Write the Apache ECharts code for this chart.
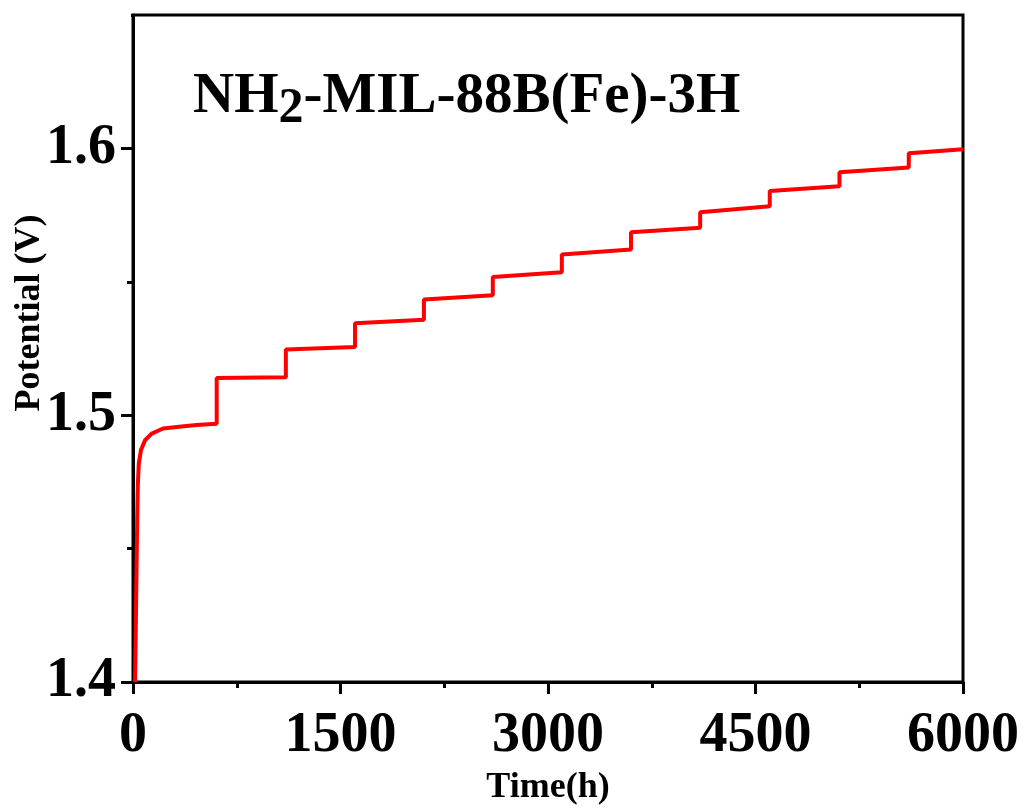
<!DOCTYPE html>
<html>
<head>
<meta charset="utf-8">
<script src="https://cdn.jsdelivr.net/npm/echarts@6/dist/echarts.min.js"></script>
<style>
html,body{margin:0;padding:0;background:#fff;}
#chart{width:1024px;height:809px;}
</style>
</head>
<body>
<div id="chart"></div>
<script>
// Initial rise (time in h, potential in V)
var riseTime = [15, 20, 25, 30, 35, 42, 58, 87, 135, 217, 350, 460];
var riseValue = [1.400, 1.420, 1.440, 1.460, 1.474, 1.482, 1.487, 1.4906, 1.4931, 1.4950, 1.4958, 1.4963];
// Step plateaus: each plateau begins at stepStart and ends at stepEnd
var stepStart = [0, 605, 1105, 1605, 2103, 2601, 3100, 3600, 4100, 4603, 5107, 5608];
var stepEnd = [605, 1105, 1605, 2103, 2601, 3100, 3600, 4100, 4603, 5107, 5608, 6000];
var plateauFirst = [null, 1.5139, 1.5246, 1.5345, 1.5434, 1.5518, 1.5602, 1.5686, 1.5761, 1.5840, 1.5911, 1.5982];
var plateauLast = [1.4968, 1.5142, 1.5256, 1.5358, 1.5450, 1.5536, 1.5621, 1.5703, 1.5783, 1.5858, 1.5928, 1.5997];
var xTicks = [0, 1500, 3000, 4500, 6000];
var yMajorTicks = [1.4, 1.5, 1.6];
var yMinorTicks = [1.45, 1.55];

var data = [];
for (var i = 0; i < riseTime.length; i++) data.push([riseTime[i], riseValue[i]]);
for (var k = 0; k < stepStart.length; k++) {
  if (plateauFirst[k] !== null) data.push([stepStart[k], plateauFirst[k]]);
  data.push([stepEnd[k], plateauLast[k]]);
}

var FONT = '"Liberation Serif", "Times New Roman", serif';
var chart = echarts.init(document.getElementById('chart'), null, {renderer: 'canvas'});
chart.setOption({
  animation: false,
  backgroundColor: '#fff',
  title: {
    left: 188, top: 64,
    text: '{a|NH}{s|2}{a|-MIL-88B(Fe)-3H}',
    textStyle: {
      rich: {
        a: {fontFamily: FONT, fontWeight: 'bold', fontSize: 57, color: '#000', lineHeight: 57, verticalAlign: 'top'},
        s: {fontFamily: FONT, fontWeight: 'bold', fontSize: 50, color: '#000', lineHeight: 50, verticalAlign: 'top', padding: [15, 0, 0, 0]}
      }
    }
  },
  graphic: [{
    type: 'text',
    x: 30, y: 313,
    rotation: Math.PI / 2,
    style: {text: 'Potential (V)', fontFamily: FONT, fontWeight: 'bold', fontSize: 36, fill: '#000',
      align: 'center', verticalAlign: 'middle'}
  }, {
    type: 'rect', z: 100,
    shape: {x: 100, y: 0, width: 31, height: 30},
    style: {fill: '#fff'}
  }],
  grid: {left: 133, right: 61, top: 15, bottom: 127, show: true, borderColor: '#000', borderWidth: 3,
    containLabel: false, outerBoundsMode: 'none'},
  xAxis: {
    type: 'value', min: 0, max: 6000, interval: 1500,
    name: 'Time(h)', nameLocation: 'middle', nameGap: 87,
    nameTextStyle: {fontFamily: FONT, fontWeight: 'bold', fontSize: 36, color: '#000'},
    axisLine: {show: true, lineStyle: {color: '#000', width: 3}},
    axisTick: {show: true, inside: false, length: 12, lineStyle: {color: '#000', width: 3}},
    minorTick: {show: true, splitNumber: 2, length: 6, lineStyle: {color: '#000', width: 3}},
    axisLabel: {margin: 27, fontFamily: FONT, fontWeight: 'bold', fontSize: 56, color: '#000',
      customValues: xTicks, formatter: function (v) { return String(v); }},
    splitLine: {show: false}, minorSplitLine: {show: false}
  },
  yAxis: [{
    type: 'value', min: 1.4, max: 1.65, interval: 0.1,
    axisLine: {show: true, lineStyle: {color: '#000', width: 3}},
    axisTick: {show: true, inside: false, length: 12, lineStyle: {color: '#000', width: 3}},
    axisLabel: {margin: 17, fontFamily: FONT, fontWeight: 'bold', fontSize: 56, color: '#000',
      customValues: yMajorTicks, formatter: function (v) { return v.toFixed(1); }},
    splitLine: {show: false}
  }, {
    type: 'value', min: 1.4, max: 1.65, position: 'left', offset: 0,
    axisLine: {show: false},
    axisTick: {show: true, inside: false, length: 6, lineStyle: {color: '#000', width: 3}, customValues: yMinorTicks},
    axisLabel: {show: false},
    splitLine: {show: false}
  }],
  series: [{
    type: 'line', data: data, showSymbol: false, symbol: 'none',
    lineStyle: {color: '#ff0000', width: 4}, z: 3, clip: true
  }]
});
</script>
</body>
</html>
